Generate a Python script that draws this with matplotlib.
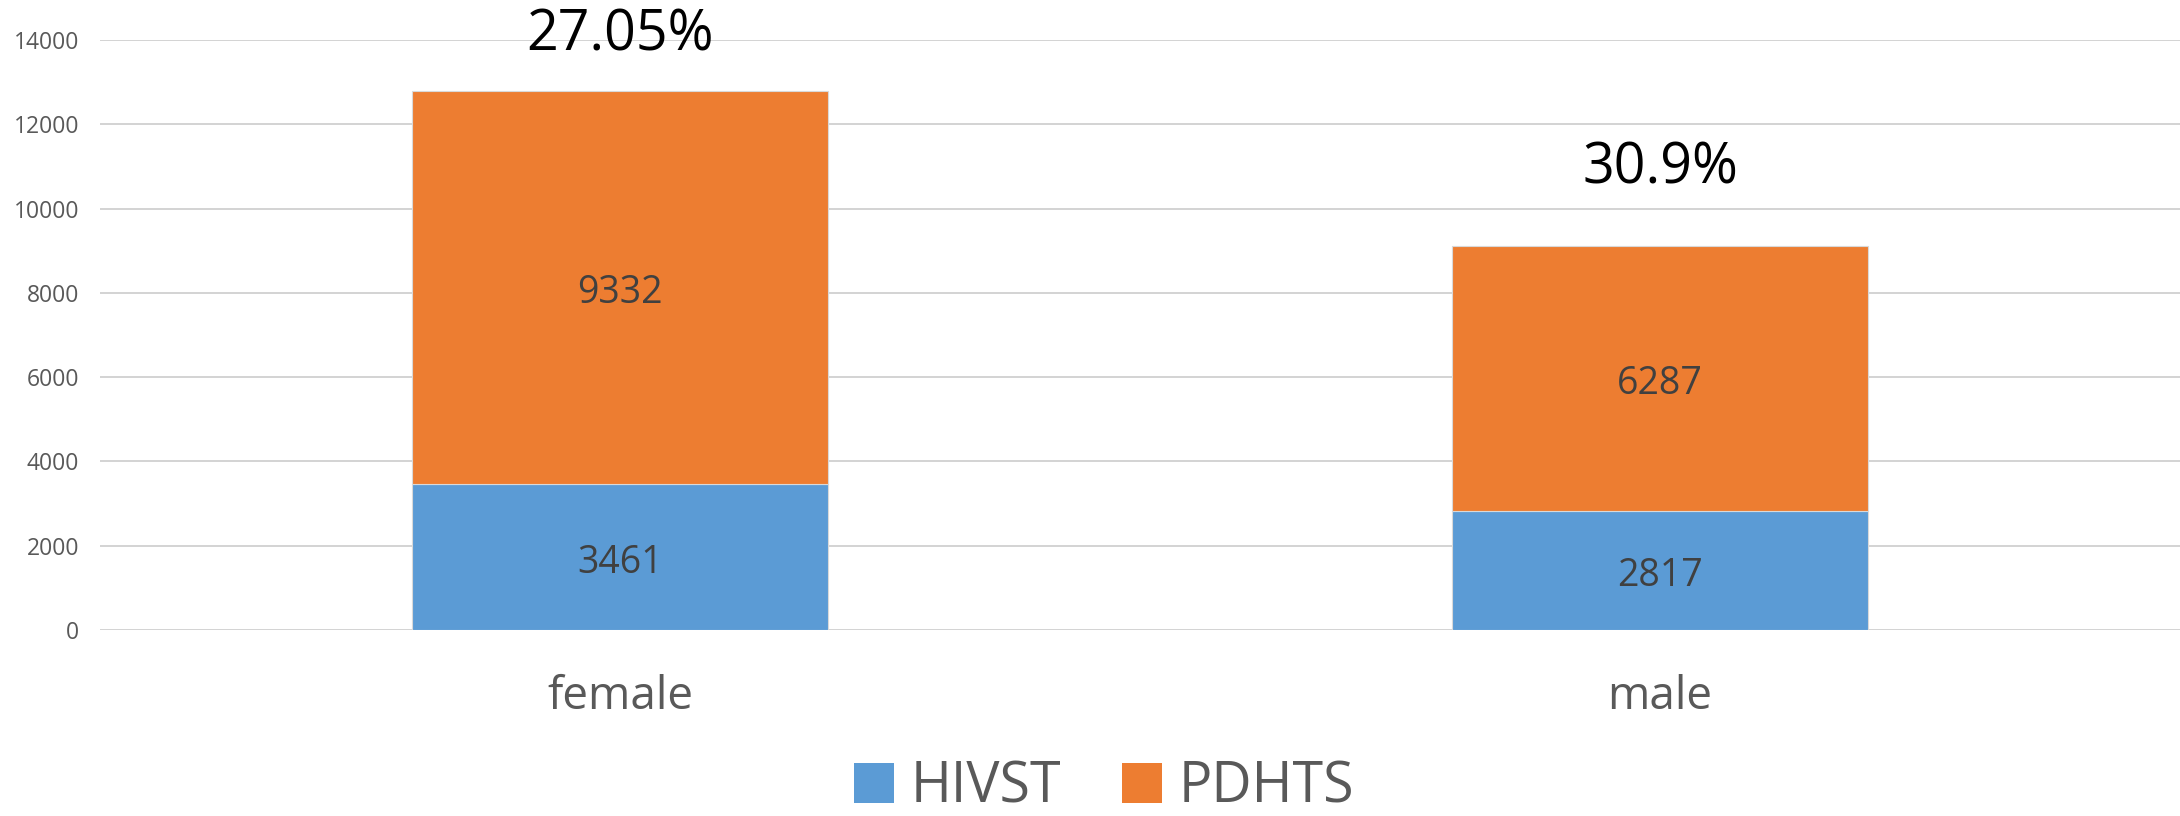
import matplotlib
matplotlib.use("Agg")
import matplotlib.pyplot as plt
import numpy as np

categories = ["female", "male"]
hivst = [3461, 2817]
pdhts = [9332, 6287]
pct_labels = ["27.05%", "30.9%"]
series_names = ["HIVST", "PDHTS"]

plt.rcParams['font.family'] = ['Open Sans', 'DejaVu Sans']

fig = plt.figure(figsize=(21.8, 8.16), dpi=100)
ax = fig.add_axes([100/2180, 1 - 630/816, 2080/2180, 590/816])

x = np.arange(len(categories))
w = 0.4
c_blue = '#5B9BD5'
c_orange = '#ED7D31'
b1 = ax.bar(x, hivst, w, color=c_blue, edgecolor='#d9d9d9', linewidth=0.8, label=series_names[0], zorder=3)
b2 = ax.bar(x, pdhts, w, bottom=hivst, color=c_orange, edgecolor='#d9d9d9', linewidth=0.8, label=series_names[1], zorder=3)

for i in range(len(categories)):
    ax.annotate(str(hivst[i]), (x[i], hivst[i] / 2), xytext=(0, -4), textcoords='offset points',
                ha='center', va='center', fontsize=27, color='#404040', zorder=4)
    ax.annotate(str(pdhts[i]), (x[i], hivst[i] + pdhts[i] / 2), xytext=(0, -4), textcoords='offset points',
                ha='center', va='center', fontsize=27, color='#404040', zorder=4)

offsets_px = [55, 77]
for i in range(len(categories)):
    top = hivst[i] + pdhts[i]
    ax.annotate(pct_labels[i], (x[i], top), xytext=(0, offsets_px[i] * 72 / 100), textcoords='offset points',
                ha='center', va='center', fontsize=40, color='black', annotation_clip=False, zorder=5)

ax.set_xlim(-0.5, 1.5)
ax.set_ylim(0, 14000)
ax.set_yticks(np.arange(0, 14001, 2000))
ax.set_xticks(x)
ax.set_xticklabels(categories, fontsize=33, color='#595959')
ax.tick_params(axis='y', length=0, pad=15, labelsize=16.5, labelcolor='#595959')
ax.tick_params(axis='x', length=0, pad=32)
ax.grid(axis='y', color='#d0d0d0', linewidth=1.3, zorder=0)
ax.set_axisbelow(True)
for s in ax.spines.values():
    s.set_visible(False)

leg = fig.legend(handles=[b1, b2], labels=series_names, loc='center', bbox_to_anchor=(1104/2180, 1 - 788/816),
                 ncol=2, frameon=False, fontsize=40, handlelength=0.72, handleheight=0.72,
                 handletextpad=0.3, columnspacing=1.1, labelcolor='#595959')
for h in leg.legend_handles:
    h.set_edgecolor('none')

fig.savefig("out.png", dpi=100)
